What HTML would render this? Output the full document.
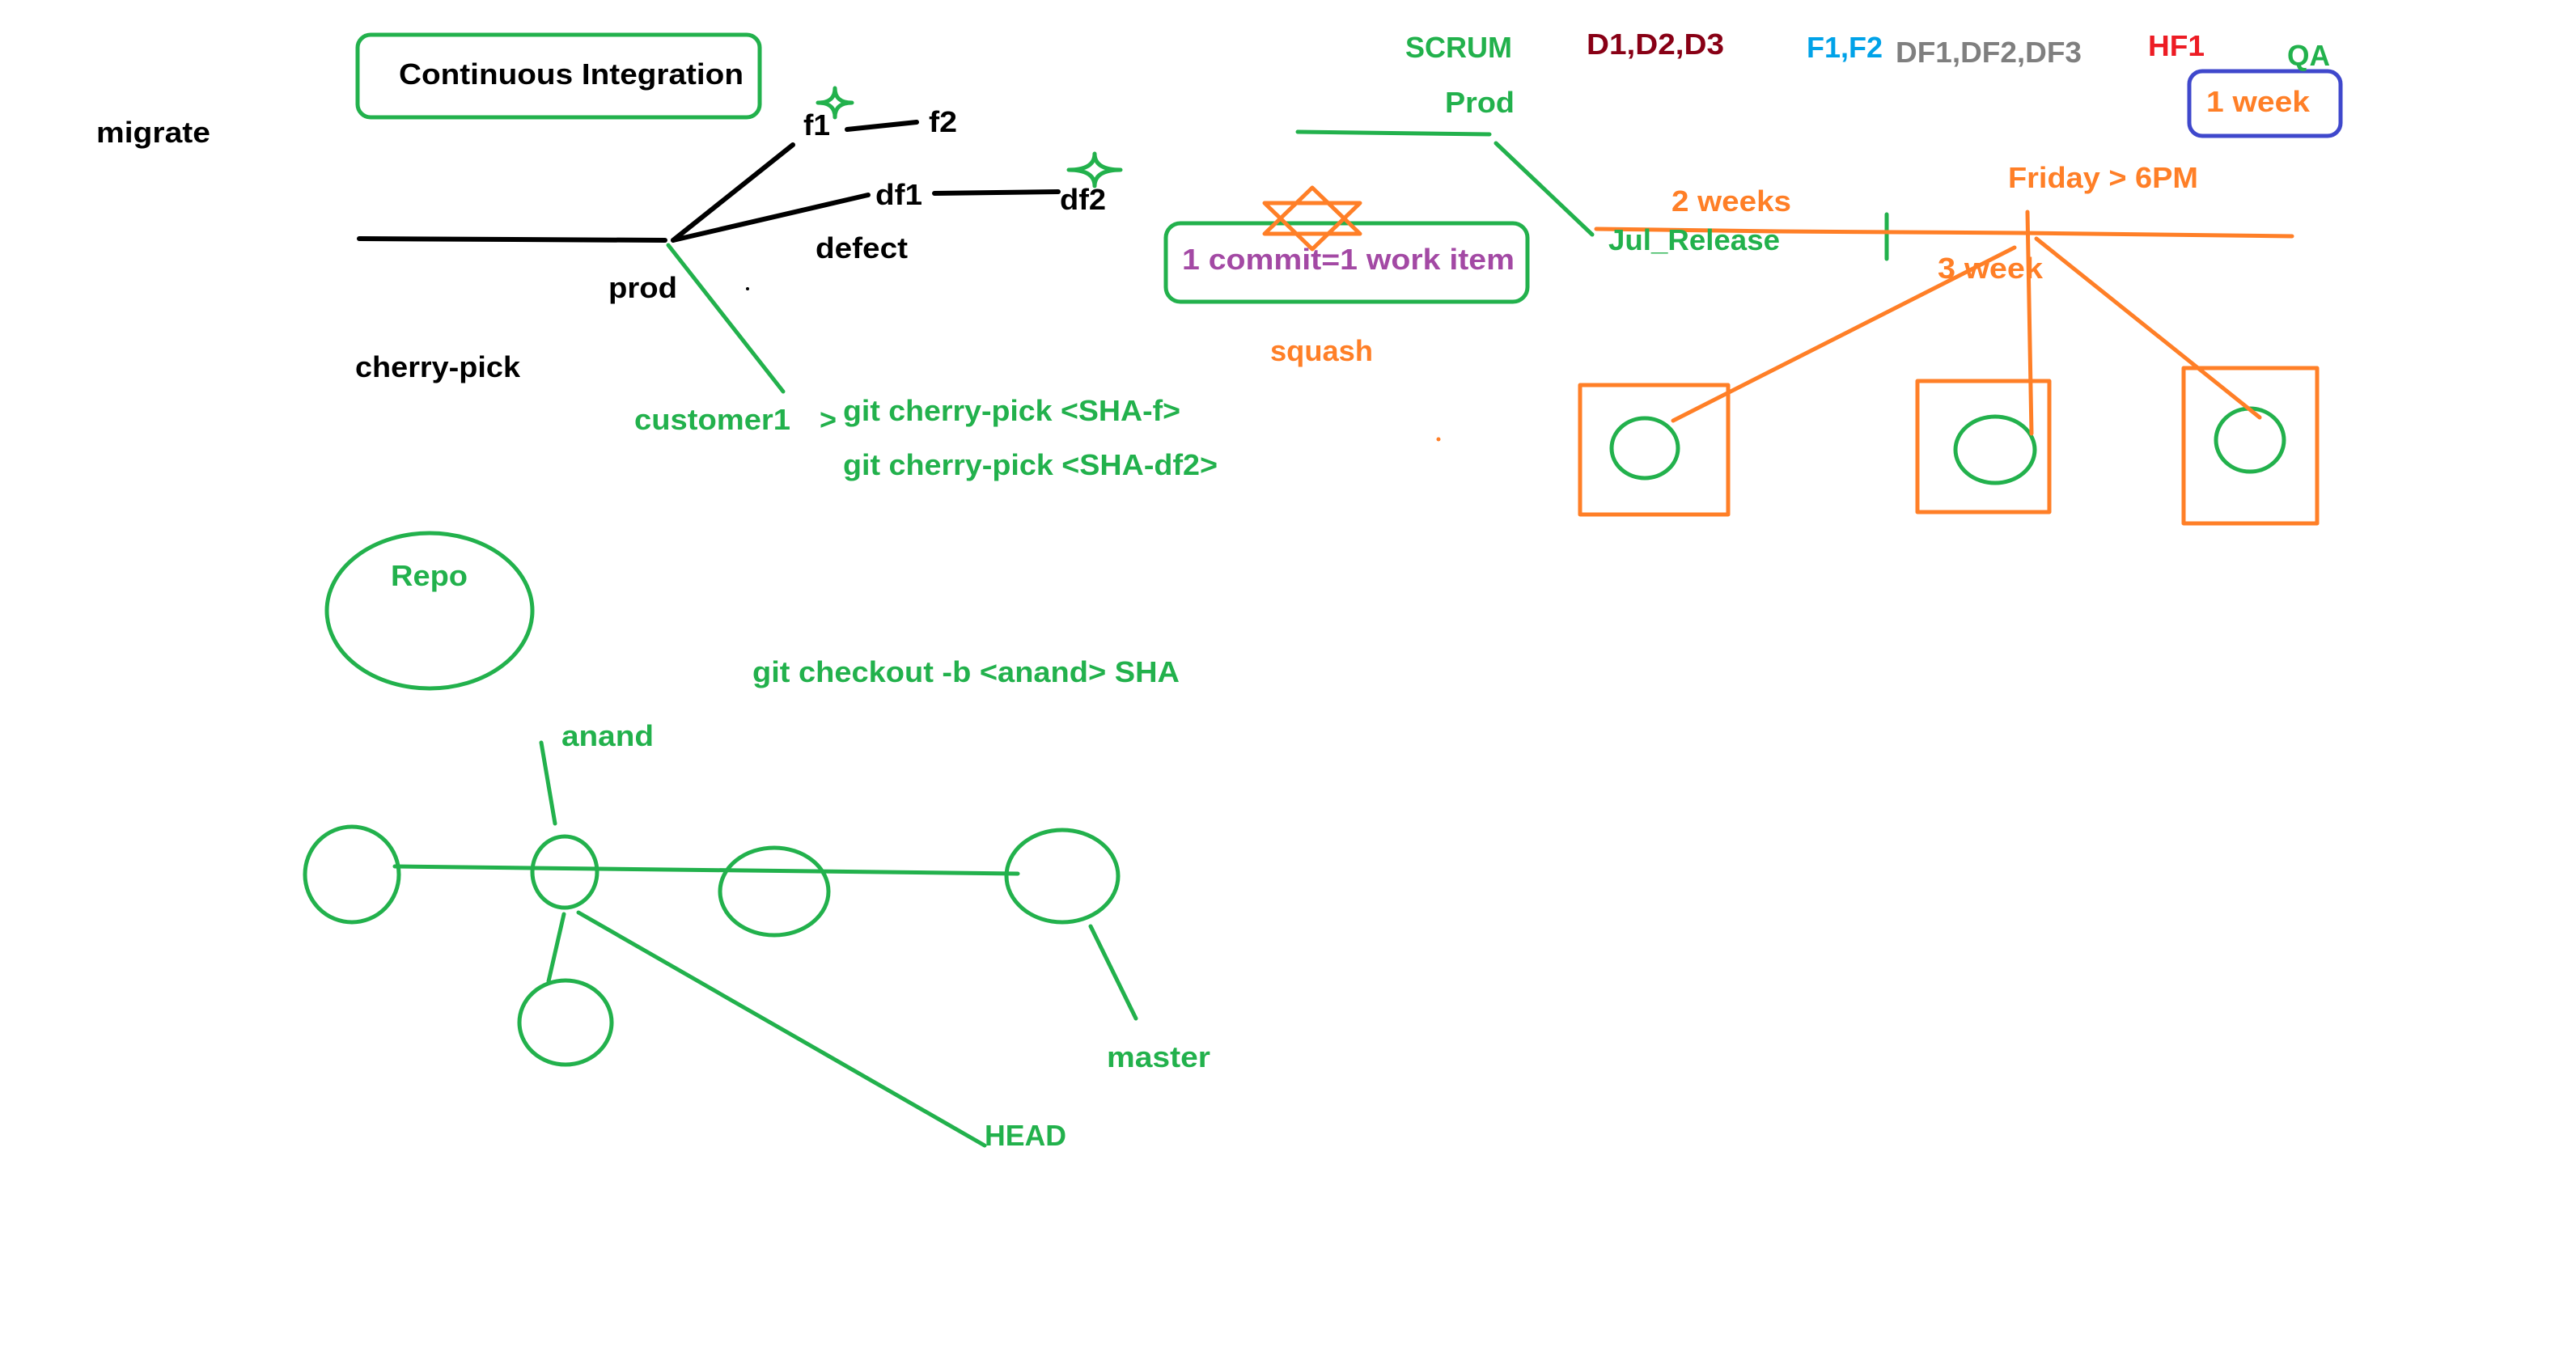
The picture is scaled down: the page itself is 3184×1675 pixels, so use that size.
<!DOCTYPE html>
<html><head><meta charset="utf-8"><style>
html,body{margin:0;padding:0;background:#fff;}
svg{display:block;}
text{font-family:"Liberation Sans",sans-serif;font-weight:bold;font-size:36px;}
</style></head><body>
<svg width="3184" height="1675" viewBox="0 0 3184 1675" xmlns="http://www.w3.org/2000/svg">
<rect width="3184" height="1675" fill="#fff"/>
<g fill="none" stroke-linecap="round" stroke-linejoin="round">
<!-- black tree -->
<g stroke="#000" stroke-width="6">
<path d="M444 295 L822 297"/>
<path d="M832 297 L980 179"/>
<path d="M832 297 L1073 241"/>
<path d="M1047 160 L1133 151"/>
<path d="M1155 239 L1308 237"/>
</g>
<circle cx="924" cy="357" r="2" fill="#000" stroke="none"/>
<g stroke="#22b14c" stroke-width="5">
<rect x="442" y="43" width="497" height="102" rx="16"/>
<path d="M826 303 L968 484"/>
<path d="M1032 109 Q1032 127 1053 127 Q1032 127 1032 145 Q1032 127 1011 127 Q1032 127 1032 109 Z"/>
<path d="M1353 190 Q1353 210 1385 210 Q1353 210 1353 230 Q1353 210 1321 210 Q1353 210 1353 190 Z"/>
<rect x="1441" y="276" width="447" height="97" rx="18"/>
<path d="M1604 163 L1841 166"/>
<path d="M1849 177 L1968 290"/>
<path d="M2332 265 L2332 320"/>
<ellipse cx="531" cy="755" rx="127" ry="96"/>
<ellipse cx="435" cy="1081" rx="58" ry="59"/>
<ellipse cx="698" cy="1078" rx="40" ry="44"/>
<ellipse cx="957" cy="1102" rx="67" ry="54"/>
<ellipse cx="1313" cy="1083" rx="69" ry="57"/>
<ellipse cx="699" cy="1264" rx="57" ry="52"/>
<path d="M488 1071 L1258 1080"/>
<path d="M669 918 L686 1018"/>
<path d="M697 1130 L678 1213"/>
<path d="M715 1128 L1217 1416"/>
<path d="M1348 1145 L1404 1259"/>
<ellipse cx="2033" cy="554" rx="41" ry="37"/>
<ellipse cx="2466" cy="556" rx="49" ry="41"/>
<ellipse cx="2781" cy="544" rx="42" ry="39"/>
</g>
<rect x="2706" y="88" width="187" height="80" rx="16" stroke="#3f48cc" stroke-width="5"/>
<g stroke="#ff7f27" stroke-width="5">
<path d="M1973 283 L2200 286 L2500 288 L2833 292"/>
<path d="M2506 262 L2511 536"/>
<path d="M2490 306 L2068 520"/>
<path d="M2517 295 L2793 516"/>
<rect x="1953" y="476" width="183" height="160"/>
<rect x="2370" y="471" width="163" height="162"/>
<rect x="2699" y="455" width="165" height="192"/>
<polygon points="1622,232 1681,289 1563,289"/>
<polygon points="1622,308 1681,251 1563,251"/>
</g>
<circle cx="1778" cy="543" r="2.5" fill="#ff7f27" stroke="none"/>
</g>
<!-- texts -->
<g fill="#000">
<text x="493" y="104" textLength="426" lengthAdjust="spacingAndGlyphs">Continuous Integration</text>
<text x="119" y="176" textLength="141" lengthAdjust="spacingAndGlyphs">migrate</text>
<text x="993" y="167" textLength="33" lengthAdjust="spacingAndGlyphs">f1</text>
<text x="1148" y="163" textLength="35" lengthAdjust="spacingAndGlyphs">f2</text>
<text x="1082" y="253" textLength="58" lengthAdjust="spacingAndGlyphs">df1</text>
<text x="1310" y="259" textLength="57" lengthAdjust="spacingAndGlyphs">df2</text>
<text x="1008" y="319" textLength="114" lengthAdjust="spacingAndGlyphs">defect</text>
<text x="752" y="368" textLength="85" lengthAdjust="spacingAndGlyphs">prod</text>
<text x="439" y="466" textLength="204" lengthAdjust="spacingAndGlyphs">cherry-pick</text>
</g>
<g fill="#22b14c">
<text x="784" y="531" textLength="193" lengthAdjust="spacingAndGlyphs">customer1</text>
<text x="1013" y="531" font-size="28">&gt;</text>
<text x="1042" y="520" textLength="417" lengthAdjust="spacingAndGlyphs">git cherry-pick &lt;SHA-f&gt;</text>
<text x="1042" y="587" textLength="463" lengthAdjust="spacingAndGlyphs">git cherry-pick &lt;SHA-df2&gt;</text>
<text x="1737" y="71" textLength="132" lengthAdjust="spacingAndGlyphs">SCRUM</text>
<text x="2827" y="81" textLength="53" lengthAdjust="spacingAndGlyphs">QA</text>
<text x="1786" y="139" textLength="86" lengthAdjust="spacingAndGlyphs">Prod</text>
<text x="1988" y="309" textLength="212" lengthAdjust="spacingAndGlyphs">Jul_Release</text>
<text x="483" y="724" textLength="95" lengthAdjust="spacingAndGlyphs">Repo</text>
<text x="930" y="843" textLength="528" lengthAdjust="spacingAndGlyphs">git checkout -b &lt;anand&gt; SHA</text>
<text x="694" y="922" textLength="114" lengthAdjust="spacingAndGlyphs">anand</text>
<text x="1217" y="1416" textLength="101" lengthAdjust="spacingAndGlyphs">HEAD</text>
<text x="1368" y="1319" textLength="128" lengthAdjust="spacingAndGlyphs">master</text>
</g>
<text x="1961" y="67" fill="#880015" textLength="170" lengthAdjust="spacingAndGlyphs">D1,D2,D3</text>
<text x="2233" y="71" fill="#00a2e8" textLength="94" lengthAdjust="spacingAndGlyphs">F1,F2</text>
<text x="2343" y="77" fill="#7f7f7f" textLength="230" lengthAdjust="spacingAndGlyphs">DF1,DF2,DF3</text>
<text x="2655" y="69" fill="#ed1c24" textLength="70" lengthAdjust="spacingAndGlyphs">HF1</text>
<text x="1461" y="333" fill="#a349a4" textLength="411" lengthAdjust="spacingAndGlyphs">1 commit=1 work item</text>
<g fill="#ff7f27">
<text x="2727" y="138" textLength="128" lengthAdjust="spacingAndGlyphs">1 week</text>
<text x="2066" y="261" textLength="148" lengthAdjust="spacingAndGlyphs">2 weeks</text>
<text x="2482" y="232" textLength="235" lengthAdjust="spacingAndGlyphs">Friday &gt; 6PM</text>
<text x="2395" y="344" textLength="130" lengthAdjust="spacingAndGlyphs">3 week</text>
<text x="1570" y="446" textLength="127" lengthAdjust="spacingAndGlyphs">squash</text>
</g>
</svg>
</body></html>
